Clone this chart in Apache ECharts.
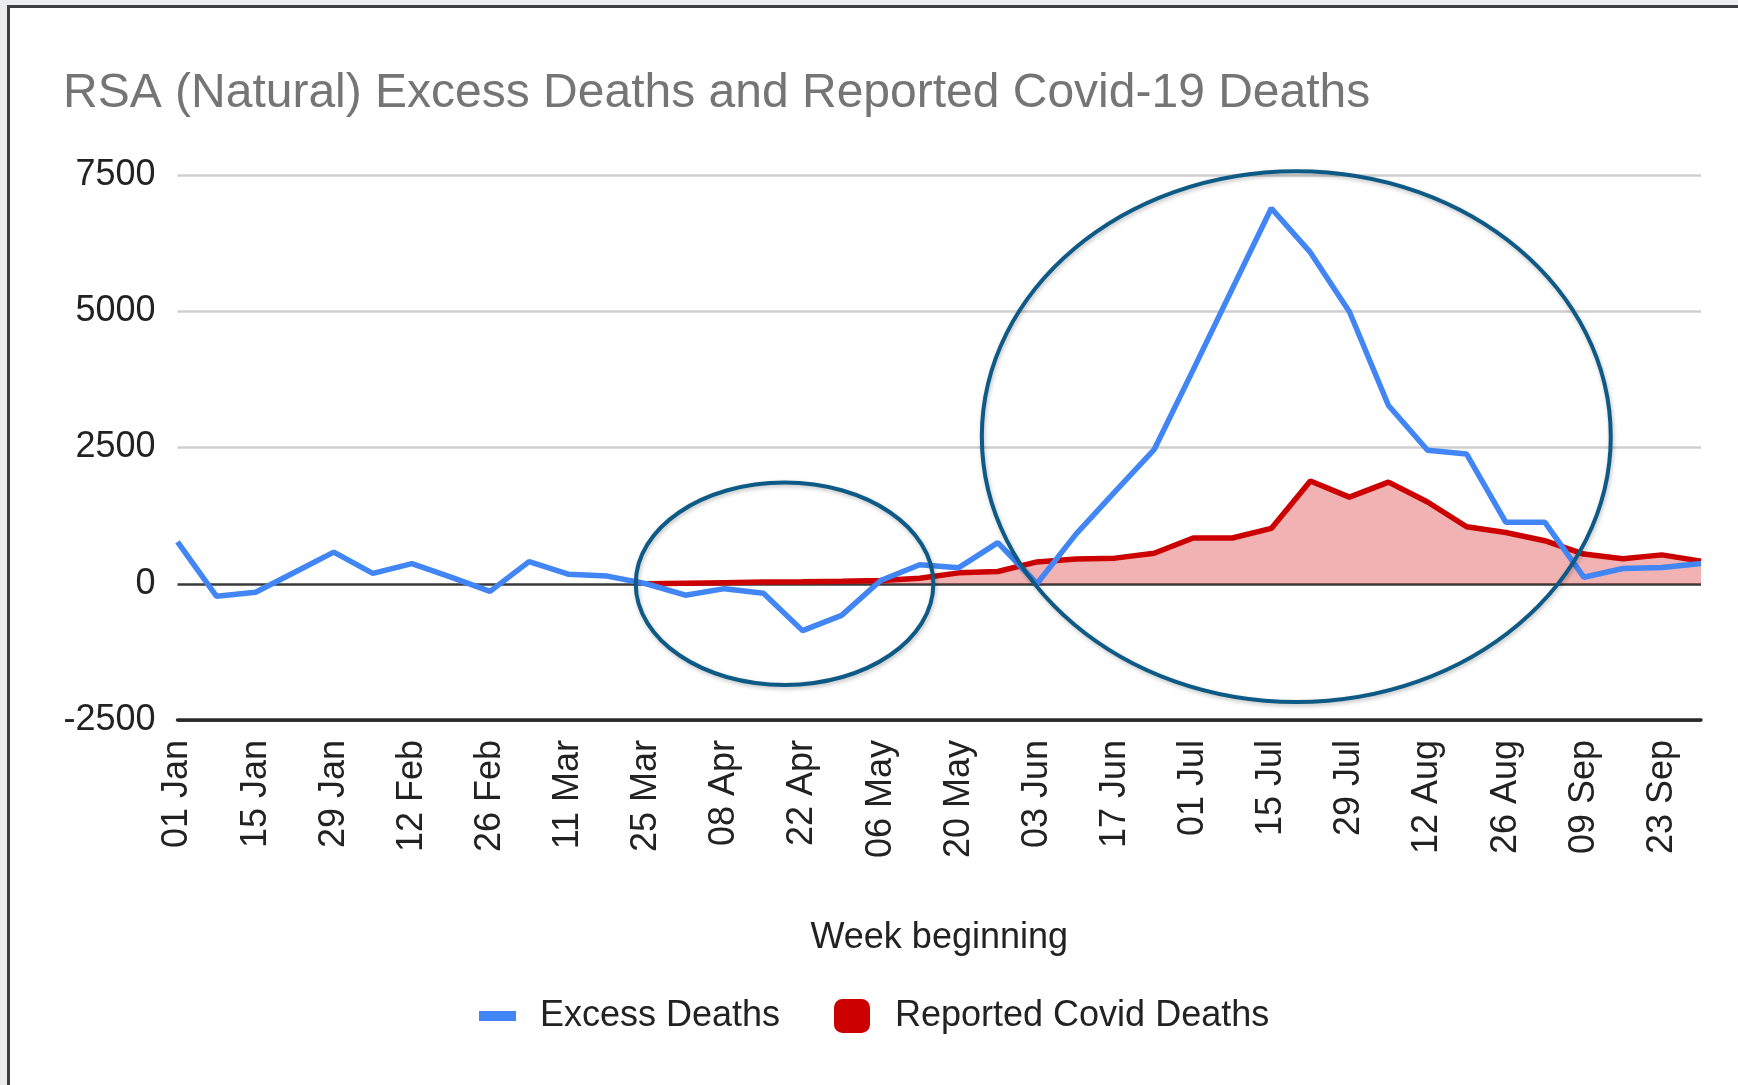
<!DOCTYPE html>
<html><head><meta charset="utf-8">
<script src="https://cdn.jsdelivr.net/npm/echarts@6/dist/echarts.min.js"></script>
<style>
html,body{margin:0;padding:0;background:#fff;}
#chart{position:absolute;left:0;top:0;width:1738px;height:1085px;}
.f{position:absolute;pointer-events:none;}
</style></head><body>
<div id="chart"></div>
<div class="f" style="left:0;top:0;width:1738px;height:5px;background:#ececec"></div>
<div class="f" style="left:0;top:5px;width:1738px;height:3px;background:#3d4043"></div>
<div class="f" style="left:0;top:0;width:7px;height:1085px;background:#ececec"></div>
<div class="f" style="left:7px;top:5px;width:3px;height:1080px;background:#3d4043"></div>
<script>
const weeks = ["01 Jan","08 Jan","15 Jan","22 Jan","29 Jan","05 Feb","12 Feb","19 Feb","26 Feb","04 Mar",
  "11 Mar","18 Mar","25 Mar","01 Apr","08 Apr","15 Apr","22 Apr","29 Apr","06 May","13 May",
  "20 May","27 May","03 Jun","10 Jun","17 Jun","24 Jun","01 Jul","08 Jul","15 Jul","22 Jul",
  "29 Jul","05 Aug","12 Aug","19 Aug","26 Aug","02 Sep","09 Sep","16 Sep","23 Sep","30 Sep"];
const excessDeaths = [770,-230,-155,210,580,190,370,120,-140,405,
  175,140,0,-210,-90,-175,-860,-580,60,350,
  295,755,0,910,1690,2460,3925,5410,6890,6080,
  4990,3270,2450,2380,1130,1130,120,280,300,370];
const covidDeaths = [null,null,null,null,null,null,null,null,null,null,
  null,null,0,10,20,30,35,45,60,100,
  200,225,400,455,470,560,840,840,1015,1885,
  1590,1865,1500,1045,940,790,545,460,530,415];
const yTicks = [-2500, 0, 2500, 5000, 7500];

const FONT = '"Liberation Sans", Arial, sans-serif';
const chart = echarts.init(document.getElementById('chart'), null, {renderer: 'canvas'});
const option = {
  animation: false,
  backgroundColor: '#fff',
  title: {
    text: 'RSA (Natural) Excess Deaths and Reported Covid-19 Deaths',
    left: 63, top: 70, padding: 0,
    textStyle: {fontFamily: FONT, fontSize: 48, fontWeight: 'normal', color: '#757575'}
  },
  legend: [
    {data: ['Excess Deaths'], left: 479, top: 998, padding: 0, icon: 'rect',
     itemWidth: 37, itemHeight: 10,
     textStyle: {fontFamily: FONT, fontSize: 36, color: '#222', padding: [0,0,0,19]}},
    {data: ['Reported Covid Deaths'], left: 834, top: 998, padding: 0, icon: 'roundRect',
     itemWidth: 36, itemHeight: 34,
     textStyle: {fontFamily: FONT, fontSize: 36, color: '#222', padding: [0,0,0,20]}}
  ],
  grid: {left: 177.5, right: 37, top: 175, bottom: 365, containLabel: false},
  xAxis: {
    type: 'category', data: weeks, boundaryGap: false,
    name: 'Week beginning', nameLocation: 'middle', nameGap: 200,
    nameTextStyle: {fontFamily: FONT, fontSize: 36, color: '#222'},
    axisLine: {onZero: false, lineStyle: {color: '#2a2a2a', width: 3.5}},
    axisTick: {show: false},
    axisLabel: {interval: 1, rotate: 90, margin: 20, fontFamily: FONT, fontSize: 36, color: '#222'}
  },
  yAxis: {
    type: 'value', min: yTicks[0], max: yTicks[yTicks.length-1], interval: 2500,
    axisLine: {show: false}, axisTick: {show: false},
    axisLabel: {margin: 22, fontFamily: FONT, fontSize: 36, color: '#222',
                formatter: function (v) { return String(v); }},
    splitLine: {show: true, lineStyle: {color: ['#2a2a2a', '#3a3a3a', '#cfcfcf', '#cfcfcf', '#cfcfcf'], width: 2.5}}
  },
  series: [
    {name: 'Excess Deaths', type: 'line', data: excessDeaths, showSymbol: false, symbol: 'none',
     z: 3, lineStyle: {color: '#4285f4', width: 5.5}, itemStyle: {color: '#4285f4'}},
    {name: 'Reported Covid Deaths', type: 'line', data: covidDeaths, showSymbol: false, symbol: 'none',
     z: 2, lineStyle: {color: '#cc0000', width: 5.5}, itemStyle: {color: '#cc0000'},
     areaStyle: {color: '#cc0000', opacity: 0.3, origin: 0}}
  ]
};
chart.setOption(option);

// Annotation ellipses, placed in data space (week index, deaths)
function ellipseAt(cIdx, cVal, rIdx, rVal) {
  const a = chart.convertToPixel({gridIndex: 0}, [0, 0]);
  const b = chart.convertToPixel({gridIndex: 0}, [weeks.length - 1, 0]);
  const step = (b[0] - a[0]) / (weeks.length - 1);
  const cy = chart.convertToPixel({yAxisIndex: 0}, cVal);
  const ry = Math.abs(chart.convertToPixel({yAxisIndex: 0}, cVal + rVal) - cy);
  return {
    type: 'ellipse', silent: true, z: 10,
    shape: {cx: a[0] + step * cIdx, cy: cy, rx: step * rIdx, ry: ry},
    style: {fill: 'none', stroke: '#0e5a86', lineWidth: 4,
            shadowBlur: 4, shadowColor: 'rgba(0,0,0,0.25)', shadowOffsetX: 1, shadowOffsetY: 2}
  };
}
chart.setOption({graphic: [
  ellipseAt(15.54, 0, 3.81, 1856),
  ellipseAt(28.64, 2700, 8.05, 4870)
]});
</script>
</body></html>
